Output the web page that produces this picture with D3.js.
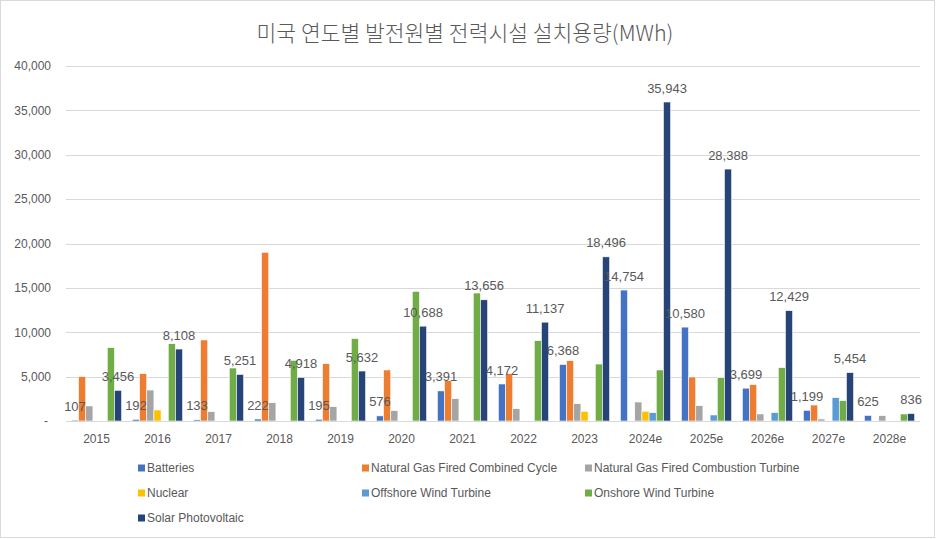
<!DOCTYPE html>
<html>
<head>
<meta charset="utf-8">
<script src="https://cdn.jsdelivr.net/npm/d3@7"></script>
<style>
  html, body { margin: 0; padding: 0; background: #fff; }
  svg { display: block; }
</style>
</head>
<body>
<svg id="chart" width="936" height="539"></svg>
<script>
const categories = ["2015","2016","2017","2018","2019","2020","2021","2022","2023","2024e","2025e","2026e","2027e","2028e"];
const seriesNames = ["Batteries","Natural Gas Fired Combined Cycle","Natural Gas Fired Combustion Turbine","Nuclear","Offshore Wind Turbine","Onshore Wind Turbine","Solar Photovoltaic"];
const seriesColors = ["#4472C4","#ED7D31","#A5A5A5","#FFC000","#5B9BD5","#70AD47","#264478"];

const batteries = [107,192,133,222,195,576,3391,4172,6368,14754,10580,3699,1199,625];
const ngcc      = [5000,5330,9130,19010,6460,5750,4545,5330,6800,null,4960,4090,1800,null];
const ngct      = [1700,3490,1050,2065,1615,1165,2515,1390,1950,2140,1725,790,230,600];
const nuclear   = [null,1240,null,null,null,null,null,null,1090,1100,null,null,null,null];
const offshore  = [null,null,null,null,null,null,null,null,null,935,680,935,2630,null];
const onshore   = [8260,8710,5970,6840,9280,14610,14420,9050,6420,5750,4880,6010,2290,790];
const solar     = [3456,8108,5251,4918,5632,10688,13656,11137,18496,35943,28388,12429,5454,836];

const seriesValues = [batteries, ngcc, ngct, nuclear, offshore, onshore, solar];
const labeledSeries = [0, 6];
const yTicks = [0,5000,10000,15000,20000,25000,30000,35000,40000];

const svg = d3.select("#chart");
const textColor = "#595959";
const fontLatin = "'Liberation Sans', Arial, sans-serif";

// chart area border
svg.append("rect")
  .attr("x", 0.5).attr("y", 0.5)
  .attr("width", 934).attr("height", 537)
  .attr("fill", "#fff").attr("stroke", "#d9d9d9");

const plot = { left: 66, right: 920, top: 66, bottom: 421 };

const x0 = d3.scaleBand().domain(categories).range([plot.left, plot.right]).paddingInner(0).paddingOuter(0);
const x1 = d3.scaleBand().domain(seriesNames).range([0, x0.bandwidth()]).paddingInner(0).paddingOuter(0.75);
const y = d3.scaleLinear().domain([0, 40000]).range([plot.bottom, plot.top]);

// title
svg.append("text")
  .attr("x", 465).attr("y", 31)
  .attr("text-anchor", "middle").attr("dominant-baseline", "central")
  .attr("font-family", "'Noto Sans CJK KR', sans-serif")
  .attr("font-size", 21.5)
  .attr("font-weight", 300)
  .attr("fill", textColor)
  .text("미국 연도별 발전원별 전력시설 설치용량(MWh)");

// gridlines
svg.append("g").selectAll("line")
  .data(yTicks.filter(d => d > 0))
  .join("line")
  .attr("x1", plot.left).attr("x2", plot.right)
  .attr("y1", d => Math.round(y(d)) + 0.5).attr("y2", d => Math.round(y(d)) + 0.5)
  .attr("stroke", "#d9d9d9").attr("stroke-width", 1);

// y axis labels
const yAxis = d3.axisLeft(y).tickValues(yTicks)
  .tickSize(0).tickPadding(0)
  .tickFormat(d => d === 0 ? "-" : d3.format(",")(d));
const yg = svg.append("g").attr("transform", `translate(${plot.left - 15},0)`).call(yAxis);
yg.select(".domain").remove();
yg.selectAll("text").attr("font-family", fontLatin).attr("font-size", 12).attr("fill", textColor)
  .attr("dx", d => d === 0 ? -3 : 0);

// bars
const groups = svg.append("g").selectAll("g")
  .data(categories)
  .join("g")
  .attr("transform", d => `translate(${x0(d)},0)`);

groups.selectAll("rect")
  .data((c, i) => seriesNames.map((s, si) => ({ s, si, v: seriesValues[si][i] })).filter(d => d.v != null && d.v > 0))
  .join("rect")
  .attr("x", d => x1(d.s))
  .attr("width", x1.bandwidth())
  .attr("y", d => y(d.v))
  .attr("height", d => plot.bottom - y(d.v))
  .attr("fill", d => seriesColors[d.si])
  .attr("stroke", "#fff").attr("stroke-width", 0.6);

// data labels
groups.selectAll("text.lbl")
  .data((c, i) => labeledSeries.map(si => ({ s: seriesNames[si], si, v: seriesValues[si][i] })))
  .join("text")
  .attr("class", "lbl")
  .attr("x", d => x1(d.s) + x1.bandwidth() / 2)
  .attr("y", d => y(d.v) - 14)
  .attr("dy", "0.35em")
  .attr("text-anchor", "middle")
  .attr("font-family", fontLatin)
  .attr("font-size", 13)
  .attr("fill", textColor)
  .text(d => d3.format(",")(d.v));

// x axis
svg.append("line")
  .attr("x1", plot.left).attr("x2", plot.right)
  .attr("y1", plot.bottom + 0.5).attr("y2", plot.bottom + 0.5)
  .attr("stroke", "#d9d9d9");
const xAxis = d3.axisBottom(x0).tickSize(0).tickPadding(0);
const xg = svg.append("g").attr("transform", `translate(0,${plot.bottom + 18})`).call(xAxis);
xg.select(".domain").remove();
xg.selectAll("text").attr("font-family", fontLatin).attr("font-size", 12).attr("fill", textColor)
  .attr("dy", "0.35em").attr("y", 0);

// legend
const legendCols = [138, 362, 585];
const legendRows = [468, 493, 518];
const legend = svg.append("g").selectAll("g")
  .data(seriesNames)
  .join("g")
  .attr("transform", (d, i) => `translate(${legendCols[i % 3]},${legendRows[Math.floor(i / 3)]})`);
legend.append("rect")
  .attr("x", 0).attr("y", -3.5).attr("width", 7).attr("height", 7)
  .attr("fill", (d, i) => seriesColors[i]);
legend.append("text")
  .attr("x", 9).attr("y", 0).attr("dy", "0.35em")
  .attr("font-family", fontLatin).attr("font-size", 12)
  .attr("fill", textColor)
  .text(d => d);
</script>
</body>
</html>
